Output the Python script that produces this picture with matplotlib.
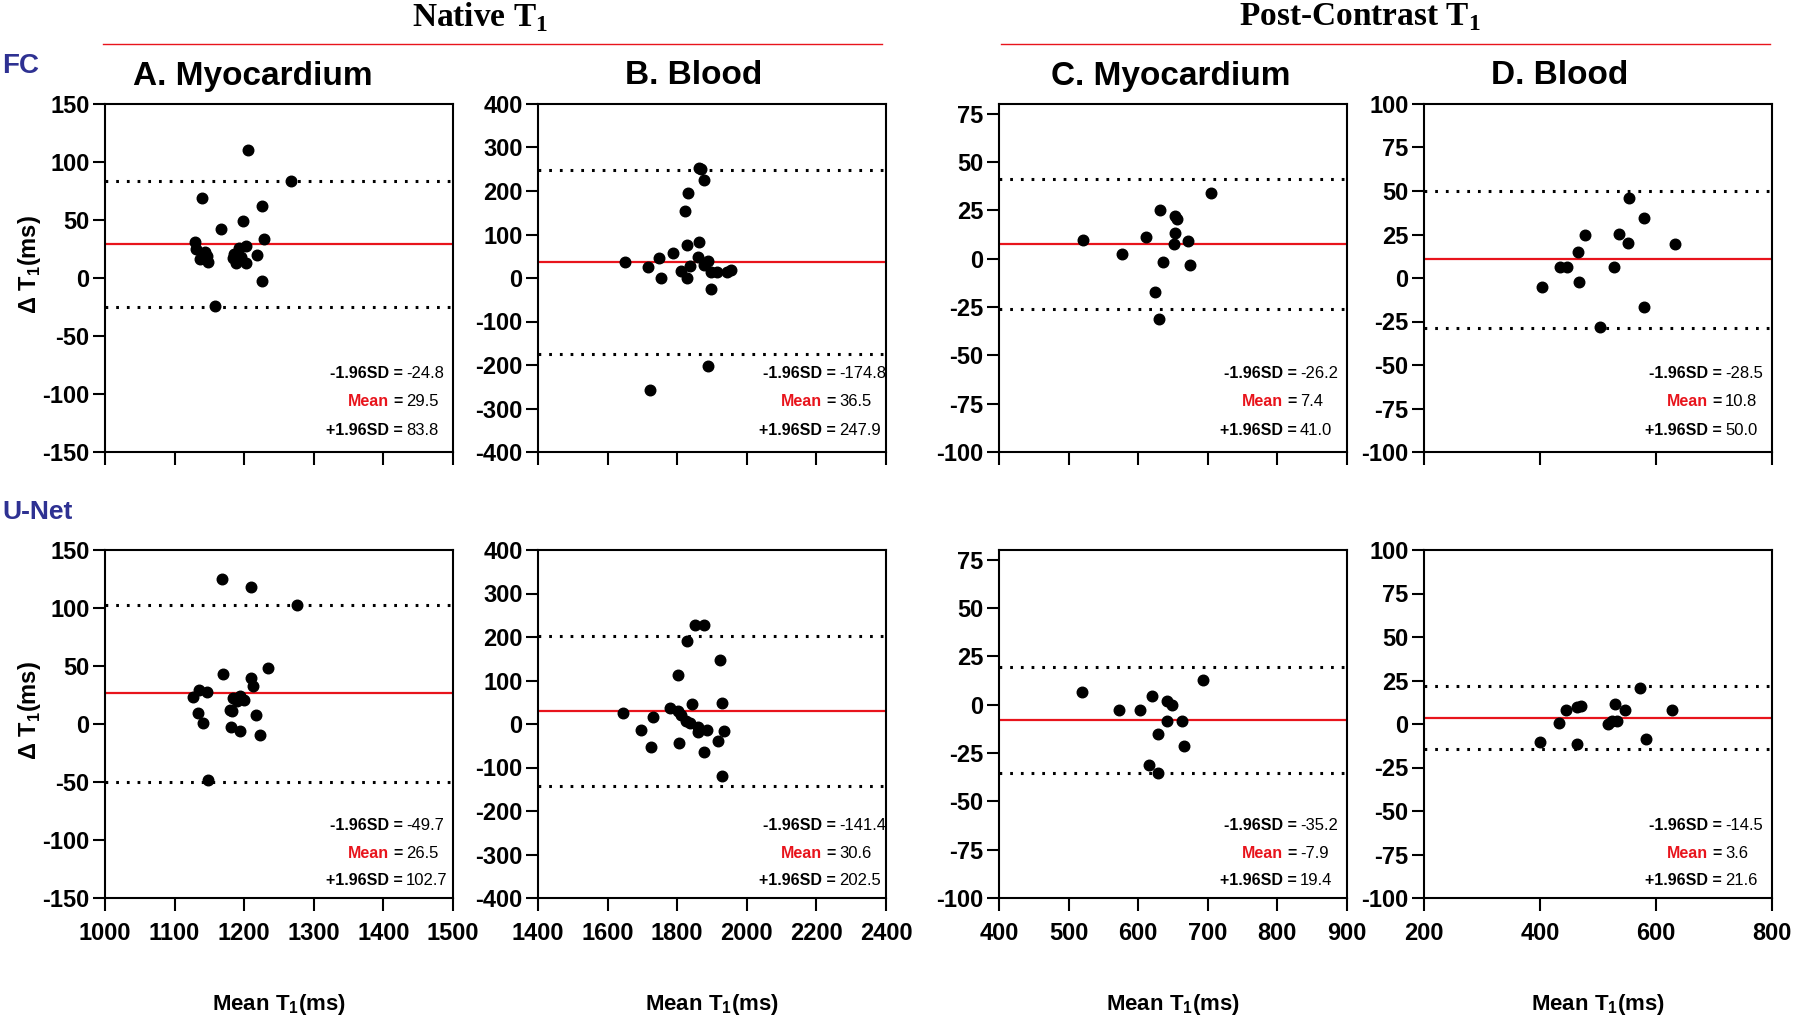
import matplotlib
matplotlib.use("Agg")
import matplotlib.pyplot as plt
from matplotlib.lines import Line2D

plt.rcParams['font.family'] = ['Liberation Sans', 'DejaVu Sans']
plt.rcParams['font.weight'] = 'bold'
plt.rcParams['axes.unicode_minus'] = False

# ---- data ----
# FC, native T1, myocardium
fc_nat_myo_x = [1206, 1267, 1140, 1225, 1198, 1167, 1229, 1129, 1131, 1143, 1136, 1148, 1146,
                1219, 1203, 1193, 1186, 1184, 1188, 1202, 1196, 1225, 1158]
fc_nat_myo_y = [110, 84, 69, 62, 49, 42, 34, 31, 25, 22, 16, 14, 19,
                20, 28, 26, 21, 17, 13, 13, 18, -3, -24]
# FC, native T1, blood
fc_nat_bld_x = [1650, 1717, 1747, 1753, 1788, 1823, 1831, 1827, 1812, 1827, 1838, 1863, 1860,
                1863, 1868, 1877, 1877, 1889, 1896, 1913, 1896, 1942, 1954, 1889, 1722]
fc_nat_bld_y = [36, 26, 46, -1, 57, 154, 196, 76, 17, -1, 27, 82, 49,
                254, 251, 225, 30, 40, 13, 14, -26, 13, 19, -203, -258]
# FC, post-contrast T1, myocardium
fc_pc_myo_x = [521, 577, 611, 631, 635, 624, 630, 653, 656, 653, 652, 672, 675, 704]
fc_pc_myo_y = [9.6, 2.4, 11.2, 25.1, -1.7, -17.1, -31.3, 22.2, 20.5, 13.4, 7.4, 9.3, -3.5, 34.2]
# FC, post-contrast T1, blood
fc_pc_bld_x = [403, 435, 446, 466, 477, 467, 504, 527, 537, 551, 553, 579, 579, 632]
fc_pc_bld_y = [-4.9, 6.6, 6.6, 15.0, 24.6, -2.4, -28.4, 6.2, 25.4, 20.0, 46.2, 34.7, -16.9, 19.8]

# U-Net, native T1, myocardium
un_nat_myo_x = [1168, 1210, 1276, 1234, 1169, 1210, 1212, 1135, 1146, 1126, 1184, 1194,
                1200, 1189, 1179, 1182, 1134, 1217, 1141, 1181, 1194, 1223, 1148]
un_nat_myo_y = [124.6, 117.7, 102.2, 48, 43.4, 39.6, 32.4, 29.5, 27.5, 22.9, 22.3, 23.8,
                20.3, 19.5, 12.2, 10.8, 9.9, 7.9, 0.7, -3, -6.2, -9.4, -48.3]
# U-Net, native T1, blood
un_nat_bld_x = [1643, 1696, 1726, 1731, 1778, 1802, 1802, 1812, 1805, 1824, 1837, 1828,
                1851, 1877, 1843, 1860, 1860, 1886, 1876, 1924, 1928, 1935, 1916, 1930]
un_nat_bld_y = [26, -14, -54, 17, 36, 112, 29, 21, -43, 6, 2, 190,
                228, 228, 46, -8, -19, -14, -64, 146, 48, -17, -38, -120]
# U-Net, post-contrast T1, myocardium
un_pc_myo_x = [519, 573, 603, 620, 641, 649, 642, 663, 628, 666, 616, 628, 693]
un_pc_myo_y = [6.8, -3.0, -2.5, 4.6, 1.7, 0.0, -8.5, -8.5, -15.3, -21.3, -31.2, -35.4, 13.0]
# U-Net, post-contrast T1, blood
un_pc_bld_x = [400, 433, 445, 463, 471, 463, 518, 524, 533, 530, 546, 572, 583, 628]
un_pc_bld_y = [-10.6, 0.8, 7.8, 10.0, 10.6, -11.7, -0.2, 1.7, 1.7, 11.3, 8.3, 20.6, -8.7, 8.1]

# limits of agreement: (-1.96SD, mean, +1.96SD)
fc_stats = [(-24.8, 29.5, 83.8), (-174.8, 36.5, 247.9), (-26.2, 7.4, 41.0), (-28.5, 10.8, 50.0)]
un_stats = [(-49.7, 26.5, 102.7), (-141.4, 30.6, 202.5), (-35.2, -7.9, 19.4), (-14.5, 3.6, 21.6)]

titles = ["A. Myocardium", "B. Blood", "C. Myocardium", "D. Blood"]
xlims = [(1000, 1500), (1400, 2400), (400, 900), (200, 800)]
xticks = [range(1000, 1501, 100), range(1400, 2401, 200), range(400, 901, 100), range(200, 801, 200)]
ylims = [(-150, 150), (-400, 400), (-100, 80), (-100, 100)]
yticks = [range(-150, 151, 50), range(-400, 401, 100), range(-100, 76, 25), range(-100, 101, 25)]

rows = [
    ([fc_nat_myo_x, fc_nat_bld_x, fc_pc_myo_x, fc_pc_bld_x],
     [fc_nat_myo_y, fc_nat_bld_y, fc_pc_myo_y, fc_pc_bld_y], fc_stats),
    ([un_nat_myo_x, un_nat_bld_x, un_pc_myo_x, un_pc_bld_x],
     [un_nat_myo_y, un_nat_bld_y, un_pc_myo_y, un_pc_bld_y], un_stats),
]

FW, FH = 1800, 1019
fig = plt.figure(figsize=(FW / 100, FH / 100), dpi=100)

col_left = [105, 538, 999, 1424]
row_top = [104, 550]
W, H = 348, 348
title_cx = [253, 694, 1171, 1560]
stat_y = [(0.227, 0.146, 0.063), (0.207, 0.129, 0.049)]
red = '#e8141c'

for r, (xs, ys, stats) in enumerate(rows):
    for c in range(4):
        ax = fig.add_axes([col_left[c] / FW, 1 - (row_top[r] + H) / FH, W / FW, H / FH])
        lo, mean, hi = stats[c]
        ax.axhline(mean, color=red, lw=1.6, zorder=2)
        ax.axhline(lo, color='black', lw=2.2, ls=(0, (0.9, 2.6)), zorder=2)
        ax.axhline(hi, color='black', lw=2.2, ls=(0, (0.9, 2.6)), zorder=2)
        ax.plot(xs[c], ys[c], 'o', color='black', ms=7.6, zorder=3)

        ax.set_xlim(*xlims[c])
        ax.set_ylim(*ylims[c])
        ax.set_xticks(list(xticks[c]))
        ax.set_yticks(list(yticks[c]))
        for s in ax.spines.values():
            s.set_linewidth(1.5)
        ax.tick_params(direction='out', length=9, width=1.5, labelsize=17)
        ax.tick_params(axis='x', pad=8)
        ax.tick_params(axis='y', pad=2)
        if r == 0:
            ax.tick_params(axis='x', labelbottom=False)
        else:
            ax.text(0.5, -0.305, r'Mean T$_\mathregular{1}$(ms)', transform=ax.transAxes,
                    ha='center', va='center', fontsize=16)
        if c == 0:
            ax.text(-0.218, 0.54, r'$\mathregular{\Delta}$ T$_\mathregular{1}$(ms)',
                    transform=ax.transAxes, rotation=90, ha='center', va='center', fontsize=17)

        # limits of agreement text
        sy = stat_y[r]
        ax.text(0.855, sy[0], '-1.96SD =', transform=ax.transAxes, ha='right', va='center', fontsize=11.5)
        ax.text(0.865, sy[0], '%.1f' % lo, transform=ax.transAxes, ha='left', va='center',
                fontsize=12, fontweight='normal')
        ax.text(0.815, sy[1], 'Mean', transform=ax.transAxes, ha='right', va='center',
                fontsize=11.5, color=red)
        ax.text(0.855, sy[1], '=', transform=ax.transAxes, ha='right', va='center', fontsize=11.5)
        ax.text(0.865, sy[1], '%.1f' % mean, transform=ax.transAxes, ha='left', va='center',
                fontsize=12, fontweight='normal')
        ax.text(0.855, sy[2], '+1.96SD =', transform=ax.transAxes, ha='right', va='center', fontsize=11.5)
        ax.text(0.865, sy[2], '%.1f' % hi, transform=ax.transAxes, ha='left', va='center',
                fontsize=12, fontweight='normal')

        if r == 0:
            fig.text(title_cx[c] / FW, 1 - 76 / FH, titles[c], ha='center', va='center', fontsize=24)

# group headers
fig.text(480 / FW, 1 - 17 / FH, r'Native T$_\mathregular{1}$', ha='center', va='center',
         fontsize=24, family='Liberation Serif')
fig.text(1360 / FW, 1 - 17 / FH, r'Post-Contrast T$_\mathregular{1}$', ha='center', va='center',
         fontsize=24, family='Liberation Serif')
fig.add_artist(Line2D([103 / FW, 882 / FW], [1 - 44 / FH] * 2, color=red, lw=1.0))
fig.add_artist(Line2D([1001 / FW, 1770 / FW], [1 - 44 / FH] * 2, color=red, lw=1.0))

fig.text(2 / FW, 1 - 66 / FH, 'FC', ha='left', va='center', fontsize=20, color='#2e3192')
fig.text(2 / FW, 1 - 512 / FH, 'U-Net', ha='left', va='center', fontsize=19, color='#2e3192')

fig.savefig('out.png', dpi=100)
